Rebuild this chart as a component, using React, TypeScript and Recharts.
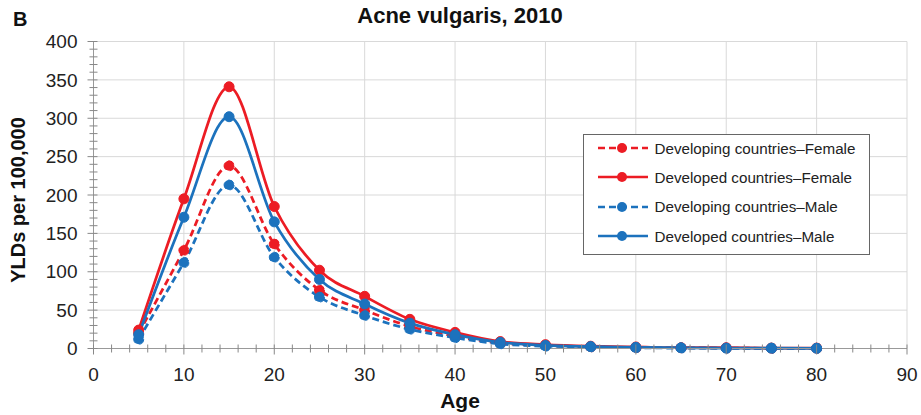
import {LineChart, Line, XAxis, YAxis, CartesianGrid, Label} from 'recharts'

const ages = [5, 10, 15, 20, 25, 30, 35, 40, 45, 50, 55, 60, 65, 70, 75, 80]
const developingFemale = [20, 128, 238, 136, 76, 50, 29, 16, 7, 4, 2, 1, 1, 0.5, 0.3, 0.3]
const developedFemale = [24, 195, 341, 185, 102, 68, 38, 21, 9, 5, 3, 2, 1, 1, 0.5, 0.5]
const developingMale = [12, 112, 213, 119, 67, 43, 25, 14, 6, 3, 2, 1, 0.5, 0.3, 0.2, 0.2]
const developedMale = [18, 171, 302, 165, 90, 58, 33, 18, 8, 4, 2.5, 1.5, 1, 0.5, 0.5, 0.3]

const xTicks = Array.from({length: 46}, (_, i) => i * 2)
const yTicks = Array.from({length: 41}, (_, i) => i * 10)
const xGrid = [0, 10, 20, 30, 40, 50, 60, 70, 80, 90]
const yGrid = [0, 50, 100, 150, 200, 250, 300, 350, 400]

const data = ages.map((age, i) => ({
    age,
    devingF: developingFemale[i],
    devedF: developedFemale[i],
    devingM: developingMale[i],
    devedM: developedMale[i],
}))

const RED = '#ec1c24'
const BLUE = '#1c72bd'
const FONT = '"Liberation Sans", Arial, sans-serif'
const X_MARGIN = 19
const Y_MARGIN = 16

const series = [
    {key: 'devingF', name: 'Developing countries\u2013Female', color: RED, dash: '7 4'},
    {key: 'devedF', name: 'Developed countries\u2013Female', color: RED, dash: undefined},
    {key: 'devingM', name: 'Developing countries\u2013Male', color: BLUE, dash: '7 4'},
    {key: 'devedM', name: 'Developed countries\u2013Male', color: BLUE, dash: undefined},
]

const XTick = (props: any) => {
    const {x, y, payload} = props
    const axisY = y - X_MARGIN
    const major = payload.value % 10 === 0
    return (
        <g>
            <line x1={x} x2={x} y1={axisY - 4} y2={axisY + (major ? 6 : 4)} stroke="#888" strokeWidth={1} />
            {major && (
                <text x={x} y={y} dy="0.71em" textAnchor="middle" fontSize={19} fill="#222" fontFamily={FONT}>
                    {payload.value}
                </text>
            )}
        </g>
    )
}

const YTick = (props: any) => {
    const {x, y, payload} = props
    const axisX = x + Y_MARGIN
    const major = payload.value % 50 === 0
    return (
        <g>
            <line x1={axisX - (major ? 6 : 4)} x2={axisX + 4} y1={y} y2={y} stroke="#888" strokeWidth={1} />
            {major && (
                <text x={x} y={y} dy="0.355em" textAnchor="end" fontSize={19} fill="#222" fontFamily={FONT}>
                    {payload.value}
                </text>
            )}
        </g>
    )
}

const LegendBox = () => (
    <div
        style={{
            position: 'absolute', left: 583, top: 134, width: 272, height: 119,
            background: '#fff', border: '1.5px solid #666', padding: '0 0 0 12.5px', fontFamily: FONT,
            boxSizing: 'content-box',
        }}
    >
        <div style={{marginTop: -1.5}}>
            {series.map(s => (
                <div key={s.key} style={{display: 'flex', alignItems: 'center', height: 29.3}}>
                    <svg width={52} height={14} style={{marginRight: 6}}>
                        <line x1={1} x2={51} y1={7} y2={7} stroke={s.color} strokeWidth={2.5} strokeDasharray={s.dash ? '7 4' : undefined} />
                        <circle cx={25} cy={7} r={5} fill={s.color} />
                    </svg>
                    <span style={{fontSize: 15.2, color: '#222', whiteSpace: 'nowrap'}}>{s.name}</span>
                </div>
            ))}
        </div>
    </div>
)

export default function App() {
    return (
        <div style={{position: 'absolute', left: 0, top: 0, width: 921, height: 415, background: '#fff'}}>
            <LineChart width={921} height={415} data={data} margin={{top: 41.5, right: 14, left: 0, bottom: 0}}>
                <CartesianGrid stroke="#d9d9d9" horizontalValues={yGrid} verticalValues={xGrid} />
                <XAxis
                    dataKey="age"
                    type="number"
                    domain={[0, 90]}
                    ticks={xTicks}
                    interval={0}
                    height={66.5}
                    tickSize={0}
                    tickMargin={X_MARGIN}
                    tickLine={false}
                    stroke="#999"
                    tick={<XTick />}
                >
                    <Label
                        content={() => (
                            <text x={460} y={408} textAnchor="middle" fontSize={21} fontWeight="bold" fill="#111" fontFamily={FONT}>
                                Age
                            </text>
                        )}
                    />
                </XAxis>
                <YAxis
                    type="number"
                    domain={[0, 400]}
                    ticks={yTicks}
                    interval={0}
                    width={93.5}
                    tickSize={0}
                    tickMargin={Y_MARGIN}
                    tickLine={false}
                    stroke="#999"
                    tick={<YTick />}
                >
                    <Label
                        content={() => (
                            <g>
                                <text x={25} y={200} transform="rotate(-90 25 200)" textAnchor="middle" fontSize={20} fontWeight="bold" fill="#111" fontFamily={FONT}>
                                    YLDs per 100,000
                                </text>
                                <text x={13} y={26} fontSize={20} fontWeight="bold" fill="#111" fontFamily={FONT}>B</text>
                                <text x={460} y={23} textAnchor="middle" fontSize={22} fontWeight="bold" fill="#111" fontFamily={FONT}>
                                    Acne vulgaris, 2010
                                </text>
                            </g>
                        )}
                    />
                </YAxis>
                {series.map(s => (
                    <Line
                        key={s.key}
                        type="monotone"
                        dataKey={s.key}
                        name={s.name}
                        stroke={s.color}
                        strokeWidth={2.75}
                        strokeDasharray={s.dash}
                        dot={{r: 5, fill: s.color, stroke: s.color, strokeWidth: 1}}
                        isAnimationActive={false}
                    />
                ))}
            </LineChart>
            <LegendBox />
        </div>
    )
}
